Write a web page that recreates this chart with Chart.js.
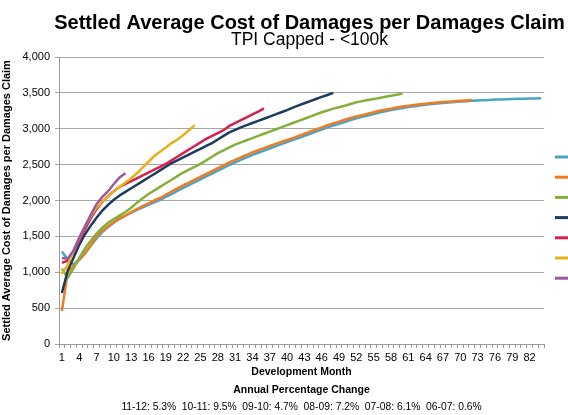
<!DOCTYPE html>
<html>
<head>
<meta charset="utf-8">
<script src="https://cdn.jsdelivr.net/npm/chart.js@4"></script>
<style>
html,body{margin:0;padding:0;background:#fff;}
#wrap{width:568px;height:415px;position:relative;}
</style>
</head>
<body>
<div id="wrap"><canvas id="c"></canvas></div>
<script>
const months = [1,2,3,4,5,6,7,8,9,10,11,12,13,14,15,16,17,18,19,20,21,22,23,24,25,26,27,28,29,30,31,32,33,34,35,36,37,38,39,40,41,42,43,44,45,46,47,48,49,50,51,52,53,54,55,56,57,58,59,60,61,62,63,64,65,66,67,68,69,70,71,72,73,74,75,76,77,78,79,80,81,82,83,84];

const seriesNames = ['2005-06','2006-07','2007-08','2008-09','2009-10','2010-11','2011-12'];
const seriesColors = ['#4BA3C7','#F07C22','#84B03A','#1C3B5E','#D6204E','#E3B21C','#9A58A2'];

const s0506 = [1290,1180,1110,1170,1260,1370,1470,1560,1630,1690,1745,1790,1830,1870,1905,1940,1975,2010,2050,2090,2135,2175,2215,2255,2295,2335,2375,2415,2455,2495,2530,2565,2600,2635,2665,2695,2725,2755,2785,2815,2845,2870,2900,2930,2960,2990,3020,3045,3070,3095,3120,3145,3165,3185,3205,3225,3245,3260,3275,3290,3302,3314,3325,3335,3344,3352,3360,3367,3373,3379,3384,3389,3394,3398,3402,3406,3409,3412,3415,3417,3419,3421,3423,3425];
const s0607 = [460,1000,1090,1180,1270,1380,1500,1580,1640,1700,1750,1790,1840,1880,1920,1960,2000,2035,2080,2125,2170,2210,2250,2290,2330,2370,2410,2450,2490,2530,2565,2600,2635,2670,2700,2730,2760,2790,2815,2845,2870,2900,2930,2960,2990,3020,3050,3075,3100,3125,3150,3170,3190,3210,3230,3250,3265,3280,3295,3310,3320,3330,3340,3350,3358,3365,3372,3378,3384,3390,3395,3400];
const s0708 = [1050,920,1050,1200,1330,1440,1540,1620,1690,1740,1790,1840,1900,1970,2030,2090,2140,2190,2240,2290,2340,2390,2430,2470,2510,2560,2610,2660,2700,2740,2780,2810,2840,2870,2900,2930,2960,2990,3020,3050,3080,3110,3140,3170,3200,3230,3255,3280,3300,3320,3345,3370,3385,3400,3415,3430,3445,3460,3475,3490];
const s0809 = [710,1020,1200,1380,1530,1650,1760,1860,1940,2010,2070,2120,2170,2220,2270,2320,2370,2420,2470,2520,2560,2600,2640,2680,2720,2760,2800,2850,2900,2950,2985,3020,3050,3080,3110,3140,3170,3200,3230,3260,3295,3325,3355,3385,3415,3445,3470,3500];
const s0910 = [1130,1160,1280,1450,1600,1750,1880,1980,2060,2130,2190,2230,2270,2310,2350,2390,2430,2470,2510,2560,2610,2660,2710,2760,2810,2860,2900,2940,2980,3040,3080,3120,3160,3200,3240,3285];
const s1011 = [980,1100,1300,1480,1640,1780,1900,1980,2060,2130,2190,2250,2310,2380,2460,2540,2620,2680,2740,2800,2850,2910,2980,3050];
const s1112 = [1200,1190,1300,1480,1640,1800,1950,2050,2130,2230,2320,2380];

const yTicks = [0,500,1000,1500,2000,2500,3000,3500,4000];
const mainTitle = 'Settled Average Cost of Damages per Damages Claim';
const subTitle = 'TPI Capped - <100k';
const xTitle = 'Development Month';
const yTitle = 'Settled Average Cost of Damages per Damages Claim';
const noteTitle = 'Annual Percentage Change';
const noteText = '11-12: 5.3%  10-11: 9.5%  09-10: 4.7%  08-09: 7.2%  07-08: 6.1%  06-07: 0.6%';

const allSeries = [s0506,s0607,s0708,s0809,s0910,s1011,s1112];
const FONT = "'Liberation Sans', Arial, sans-serif";

const textPlugin = {
  id: 'texts',
  afterDraw(chart) {
    const ctx = chart.ctx;
    const ca = chart.chartArea;
    const cx = (ca.left + ca.right) / 2;
    ctx.save();
    ctx.fillStyle = '#000';
    ctx.textAlign = 'center';
    ctx.textBaseline = 'alphabetic';
    ctx.font = 'bold 20px ' + FONT;
    ctx.fillText(mainTitle, cx + 8, 29);
    ctx.font = '17.5px ' + FONT;
    ctx.fillText(subTitle, cx + 8, 45);
    ctx.font = 'bold 10.5px ' + FONT;
    ctx.fillText(noteTitle, cx, 393);
    ctx.font = '10.3px ' + FONT;
    ctx.fillText(noteText, cx, 410);
    // legend swatches (labels lie beyond the visible edge)
    const x0 = ca.right + 11;
    const x1 = chart.width;
    chart.data.datasets.forEach((ds, i) => {
      const y = 157 + i * 20.2;
      ctx.strokeStyle = ds.borderColor;
      ctx.lineWidth = 3;
      ctx.beginPath();
      ctx.moveTo(x0, y);
      ctx.lineTo(x1, y);
      ctx.stroke();
    });
    ctx.restore();
  }
};

new Chart(document.getElementById('c'), {
  type: 'line',
  data: {
    labels: months,
    datasets: allSeries.map((d, i) => ({
      label: seriesNames[i],
      data: d,
      borderColor: seriesColors[i],
      backgroundColor: seriesColors[i],
      borderWidth: 2.5,
      pointRadius: 0,
      tension: 0,
      fill: false,
      order: 7 - i
    }))
  },
  options: {
    responsive: true,
    maintainAspectRatio: false,
    animation: false,
    layout: { padding: { top: 57, right: 24, bottom: 37, left: 0 } },
    plugins: {
      legend: { display: false },
      title: { display: false },
      tooltip: { enabled: false }
    },
    scales: {
      x: {
        type: 'category',
        offset: true,
        afterFit(s) { s.height = 34; },
        grid: {
          offset: true,
          drawOnChartArea: false,
          drawTicks: true,
          tickLength: 4,
          color: '#9A9A9A'
        },
        border: { color: '#9A9A9A', width: 1 },
        ticks: {
          autoSkip: false,
          maxRotation: 0,
          minRotation: 0,
          padding: 3,
          color: '#000',
          font: { family: FONT, size: 11 },
          callback(v, i) { return i % 3 === 0 ? String(months[i]) : ''; }
        },
        title: {
          display: true,
          text: xTitle,
          color: '#000',
          font: { family: FONT, size: 10.5, weight: 'bold' },
          padding: { top: 1, bottom: 0 }
        }
      },
      y: {
        min: 0,
        max: 4000,
        afterFit(s) { s.width = 59; },
        afterBuildTicks(s) { s.ticks = yTicks.map(v => ({ value: v })); },
        grid: {
          color: '#A6A6A6',
          lineWidth: 1,
          tickLength: 4,
          drawTicks: true
        },
        border: { color: '#9A9A9A', width: 1 },
        ticks: {
          padding: 5,
          color: '#000',
          font: { family: FONT, size: 11 },
          callback(v) { return v.toLocaleString('en-US'); }
        },
        title: {
          display: true,
          text: yTitle,
          color: '#000',
          font: { family: FONT, size: 11, weight: 'bold' },
          padding: { top: 0, bottom: 2 }
        }
      }
    }
  },
  plugins: [textPlugin]
});
</script>
</body>
</html>
